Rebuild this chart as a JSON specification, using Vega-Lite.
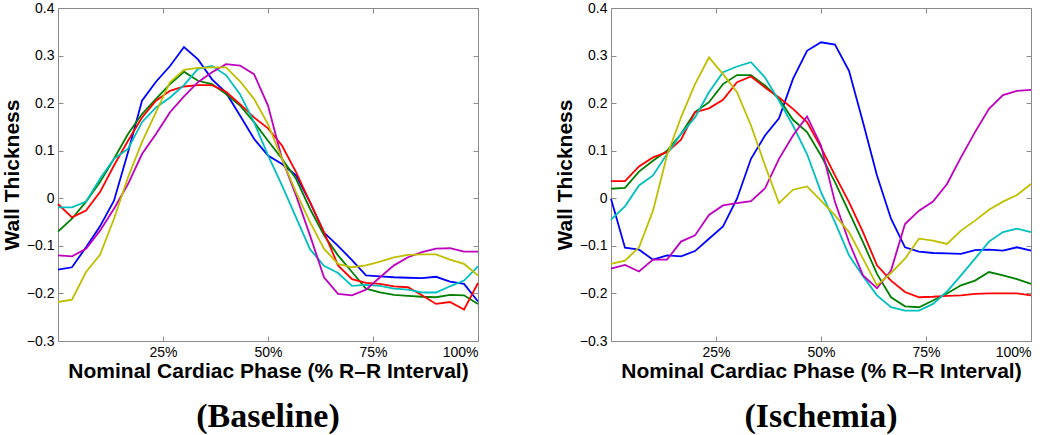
{
  "$schema": "https://vega.github.io/schema/vega-lite/v6.json",
  "padding": {"left": 0, "top": 0, "right": 0, "bottom": 0},
  "spacing": 70,
  "data": {"values": [
    {"p":"B","x":0,"b":-0.15,"g":-0.07,"r":-0.012,"c":-0.019,"m":-0.12,"y":-0.218},
    {"p":"B","x":3.33,"b":-0.145,"g":-0.043,"r":-0.04,"c":-0.019,"m":-0.122,"y":-0.213},
    {"p":"B","x":6.67,"b":-0.103,"g":-0.007,"r":-0.026,"c":-0.007,"m":-0.106,"y":-0.155},
    {"p":"B","x":10,"b":-0.059,"g":0.034,"r":0.013,"c":0.041,"m":-0.068,"y":-0.119},
    {"p":"B","x":13.33,"b":-0.005,"g":0.083,"r":0.069,"c":0.083,"m":-0.022,"y":-0.043},
    {"p":"B","x":16.67,"b":0.097,"g":0.135,"r":0.121,"c":0.104,"m":0.03,"y":0.044},
    {"p":"B","x":20,"b":0.205,"g":0.177,"r":0.17,"c":0.16,"m":0.093,"y":0.118},
    {"p":"B","x":23.33,"b":0.245,"g":0.209,"r":0.205,"c":0.191,"m":0.135,"y":0.181},
    {"p":"B","x":26.67,"b":0.278,"g":0.24,"r":0.226,"c":0.212,"m":0.181,"y":0.244},
    {"p":"B","x":30,"b":0.318,"g":0.266,"r":0.235,"c":0.238,"m":0.214,"y":0.27},
    {"p":"B","x":33.33,"b":0.292,"g":0.247,"r":0.238,"c":0.272,"m":0.244,"y":0.274},
    {"p":"B","x":36.67,"b":0.25,"g":0.24,"r":0.238,"c":0.278,"m":0.265,"y":0.275},
    {"p":"B","x":40,"b":0.222,"g":0.219,"r":0.224,"c":0.259,"m":0.282,"y":0.275},
    {"p":"B","x":43.33,"b":0.174,"g":0.195,"r":0.198,"c":0.219,"m":0.279,"y":0.246},
    {"p":"B","x":46.67,"b":0.125,"g":0.16,"r":0.17,"c":0.16,"m":0.261,"y":0.209},
    {"p":"B","x":50,"b":0.09,"g":0.121,"r":0.147,"c":0.09,"m":0.195,"y":0.156},
    {"p":"B","x":53.33,"b":0.072,"g":0.083,"r":0.111,"c":0.027,"m":0.083,"y":0.083},
    {"p":"B","x":56.67,"b":0.048,"g":0.041,"r":0.055,"c":-0.04,"m":0.006,"y":0.013},
    {"p":"B","x":60,"b":-0.008,"g":-0.022,"r":-0.008,"c":-0.107,"m":-0.078,"y":-0.05},
    {"p":"B","x":63.33,"b":-0.072,"g":-0.078,"r":-0.071,"c":-0.142,"m":-0.166,"y":-0.106},
    {"p":"B","x":66.67,"b":-0.1,"g":-0.12,"r":-0.141,"c":-0.157,"m":-0.201,"y":-0.138},
    {"p":"B","x":70,"b":-0.13,"g":-0.155,"r":-0.17,"c":-0.184,"m":-0.204,"y":-0.145},
    {"p":"B","x":73.33,"b":-0.162,"g":-0.19,"r":-0.178,"c":-0.182,"m":-0.192,"y":-0.141},
    {"p":"B","x":76.67,"b":-0.164,"g":-0.198,"r":-0.18,"c":-0.184,"m":-0.166,"y":-0.133},
    {"p":"B","x":80,"b":-0.166,"g":-0.203,"r":-0.185,"c":-0.19,"m":-0.141,"y":-0.124},
    {"p":"B","x":83.33,"b":-0.167,"g":-0.205,"r":-0.187,"c":-0.192,"m":-0.124,"y":-0.119},
    {"p":"B","x":86.67,"b":-0.168,"g":-0.207,"r":-0.204,"c":-0.198,"m":-0.113,"y":-0.118},
    {"p":"B","x":90,"b":-0.165,"g":-0.208,"r":-0.222,"c":-0.198,"m":-0.106,"y":-0.118},
    {"p":"B","x":93.33,"b":-0.175,"g":-0.203,"r":-0.218,"c":-0.185,"m":-0.105,"y":-0.129},
    {"p":"B","x":96.67,"b":-0.18,"g":-0.204,"r":-0.234,"c":-0.173,"m":-0.112,"y":-0.138},
    {"p":"B","x":100,"b":-0.217,"g":-0.222,"r":-0.178,"c":-0.143,"m":-0.112,"y":-0.162},
    {"p":"I","x":0,"b":-0.001,"g":0.02,"r":0.036,"c":-0.045,"m":-0.148,"y":-0.138},
    {"p":"I","x":3.33,"b":-0.104,"g":0.022,"r":0.036,"c":-0.017,"m":-0.14,"y":-0.131},
    {"p":"I","x":6.67,"b":-0.108,"g":0.056,"r":0.067,"c":0.027,"m":-0.154,"y":-0.103},
    {"p":"I","x":10,"b":-0.129,"g":0.079,"r":0.086,"c":0.048,"m":-0.129,"y":-0.026},
    {"p":"I","x":13.33,"b":-0.12,"g":0.1,"r":0.097,"c":0.093,"m":-0.129,"y":0.09},
    {"p":"I","x":16.67,"b":-0.122,"g":0.135,"r":0.123,"c":0.135,"m":-0.091,"y":0.17},
    {"p":"I","x":20,"b":-0.111,"g":0.181,"r":0.181,"c":0.17,"m":-0.078,"y":0.24},
    {"p":"I","x":23.33,"b":-0.085,"g":0.202,"r":0.189,"c":0.223,"m":-0.035,"y":0.296},
    {"p":"I","x":26.67,"b":-0.059,"g":0.24,"r":0.207,"c":0.265,"m":-0.015,"y":0.261},
    {"p":"I","x":30,"b":-0.001,"g":0.259,"r":0.244,"c":0.277,"m":-0.01,"y":0.223},
    {"p":"I","x":33.33,"b":0.083,"g":0.259,"r":0.256,"c":0.286,"m":-0.006,"y":0.153},
    {"p":"I","x":36.67,"b":0.132,"g":0.237,"r":0.233,"c":0.254,"m":0.021,"y":0.069},
    {"p":"I","x":40,"b":0.168,"g":0.209,"r":0.212,"c":0.205,"m":0.083,"y":-0.01},
    {"p":"I","x":43.33,"b":0.251,"g":0.165,"r":0.188,"c":0.153,"m":0.132,"y":0.018},
    {"p":"I","x":46.67,"b":0.31,"g":0.139,"r":0.16,"c":0.093,"m":0.172,"y":0.025},
    {"p":"I","x":50,"b":0.328,"g":0.09,"r":0.107,"c":0.013,"m":0.111,"y":-0.005},
    {"p":"I","x":53.33,"b":0.323,"g":0.034,"r":0.048,"c":-0.05,"m":-0.008,"y":-0.036},
    {"p":"I","x":56.67,"b":0.268,"g":-0.029,"r":-0.008,"c":-0.12,"m":-0.092,"y":-0.071},
    {"p":"I","x":60,"b":0.16,"g":-0.092,"r":-0.071,"c":-0.164,"m":-0.162,"y":-0.127},
    {"p":"I","x":63.33,"b":0.048,"g":-0.159,"r":-0.141,"c":-0.204,"m":-0.189,"y":-0.183},
    {"p":"I","x":66.67,"b":-0.043,"g":-0.208,"r":-0.173,"c":-0.229,"m":-0.152,"y":-0.157},
    {"p":"I","x":70,"b":-0.103,"g":-0.227,"r":-0.197,"c":-0.236,"m":-0.054,"y":-0.127},
    {"p":"I","x":73.33,"b":-0.112,"g":-0.229,"r":-0.208,"c":-0.236,"m":-0.026,"y":-0.085},
    {"p":"I","x":76.67,"b":-0.115,"g":-0.215,"r":-0.207,"c":-0.222,"m":-0.007,"y":-0.089},
    {"p":"I","x":80,"b":-0.116,"g":-0.2,"r":-0.205,"c":-0.196,"m":0.03,"y":-0.096},
    {"p":"I","x":83.33,"b":-0.117,"g":-0.183,"r":-0.204,"c":-0.162,"m":0.086,"y":-0.068},
    {"p":"I","x":86.67,"b":-0.109,"g":-0.173,"r":-0.201,"c":-0.127,"m":0.139,"y":-0.047},
    {"p":"I","x":90,"b":-0.108,"g":-0.155,"r":-0.2,"c":-0.091,"m":0.188,"y":-0.024},
    {"p":"I","x":93.33,"b":-0.11,"g":-0.162,"r":-0.2,"c":-0.071,"m":0.217,"y":-0.007},
    {"p":"I","x":96.67,"b":-0.103,"g":-0.17,"r":-0.2,"c":-0.064,"m":0.226,"y":0.007},
    {"p":"I","x":100,"b":-0.11,"g":-0.18,"r":-0.204,"c":-0.071,"m":0.228,"y":0.03}
  ]},
  "hconcat": [
    {
      "width": 420, "height": 333,
      "transform": [{"filter": "datum.p === 'B'"}, {"fold": ["b","g","r","c","m","y"], "as": ["s","v"]}],
      "title": {"text": "(Baseline)"},
      "layer": [
        {"mark": {"type": "line", "strokeWidth": 1.8},
         "encoding": {
           "x": {"field": "x", "type": "quantitative", "scale": {"domain": [0, 100], "nice": false},
                 "axis": {"orient": "bottom", "values": [25,50,75,100], "labelExpr": "datum.value + '%'", "title": "Nominal Cardiac Phase (% R\u2013R Interval)"}},
           "y": {"field": "v", "type": "quantitative", "scale": {"domain": [-0.3, 0.4], "nice": false, "zero": false},
                 "axis": {"orient": "left", "values": [-0.3,-0.2,-0.1,0,0.1,0.2,0.3,0.4], "labelExpr": "replace(format(datum.value, '.1~f'), '-', '\u2212')", "title": "Wall Thickness"}},
           "color": {"field": "s", "type": "nominal", "legend": null,
                     "scale": {"domain": ["b","g","r","c","m","y"], "range": ["#0000ff","#008000","#ff0000","#00bfbf","#bf00bf","#bfbf00"]}}
         }},
        {"mark": {"type": "line", "strokeOpacity": 0},
         "encoding": {
           "x": {"field": "x", "type": "quantitative", "axis": {"orient": "top", "values": [25,50,75,100], "labels": false, "title": null}},
           "y": {"field": "v", "type": "quantitative", "axis": {"orient": "right", "values": [-0.3,-0.2,-0.1,0,0.1,0.2,0.3,0.4], "labels": false, "title": null}},
           "detail": {"field": "s"}
         }}
      ],
      "resolve": {"axis": {"x": "independent", "y": "independent"}}
    },
    {
      "width": 420, "height": 333,
      "transform": [{"filter": "datum.p === 'I'"}, {"fold": ["b","g","r","c","m","y"], "as": ["s","v"]}],
      "title": {"text": "(Ischemia)"},
      "layer": [
        {"mark": {"type": "line", "strokeWidth": 1.8},
         "encoding": {
           "x": {"field": "x", "type": "quantitative", "scale": {"domain": [0, 100], "nice": false},
                 "axis": {"orient": "bottom", "values": [25,50,75,100], "labelExpr": "datum.value + '%'", "title": "Nominal Cardiac Phase (% R\u2013R Interval)"}},
           "y": {"field": "v", "type": "quantitative", "scale": {"domain": [-0.3, 0.4], "nice": false, "zero": false},
                 "axis": {"orient": "left", "values": [-0.3,-0.2,-0.1,0,0.1,0.2,0.3,0.4], "labelExpr": "replace(format(datum.value, '.1~f'), '-', '\u2212')", "title": "Wall Thickness"}},
           "color": {"field": "s", "type": "nominal", "legend": null,
                     "scale": {"domain": ["b","g","r","c","m","y"], "range": ["#0000ff","#008000","#ff0000","#00bfbf","#bf00bf","#bfbf00"]}}
         }},
        {"mark": {"type": "line", "strokeOpacity": 0},
         "encoding": {
           "x": {"field": "x", "type": "quantitative", "axis": {"orient": "top", "values": [25,50,75,100], "labels": false, "title": null}},
           "y": {"field": "v", "type": "quantitative", "axis": {"orient": "right", "values": [-0.3,-0.2,-0.1,0,0.1,0.2,0.3,0.4], "labels": false, "title": null}},
           "detail": {"field": "s"}
         }}
      ],
      "resolve": {"axis": {"x": "independent", "y": "independent"}}
    }
  ],
  "config": {
    "font": "Liberation Sans",
    "view": {"stroke": "#8a8a8a", "strokeWidth": 1},
    "axis": {
      "grid": false, "domain": false,
      "tickSize": -5, "tickColor": "#8a8a8a", "tickWidth": 1,
      "labelFont": "Liberation Sans", "labelFontSize": 14, "labelColor": "#000000", "labelPadding": 9,
      "titleFont": "Liberation Sans", "titleFontSize": 21, "titleFontWeight": "bold", "titleColor": "#000000"
    },
    "axisBottom": {"titlePadding": 1},
    "axisLeft": {"titlePadding": 4},
    "title": {"orient": "bottom", "anchor": "middle", "font": "Liberation Serif", "fontSize": 34, "fontWeight": "bold", "color": "#000000", "offset": 19}
  }
}
